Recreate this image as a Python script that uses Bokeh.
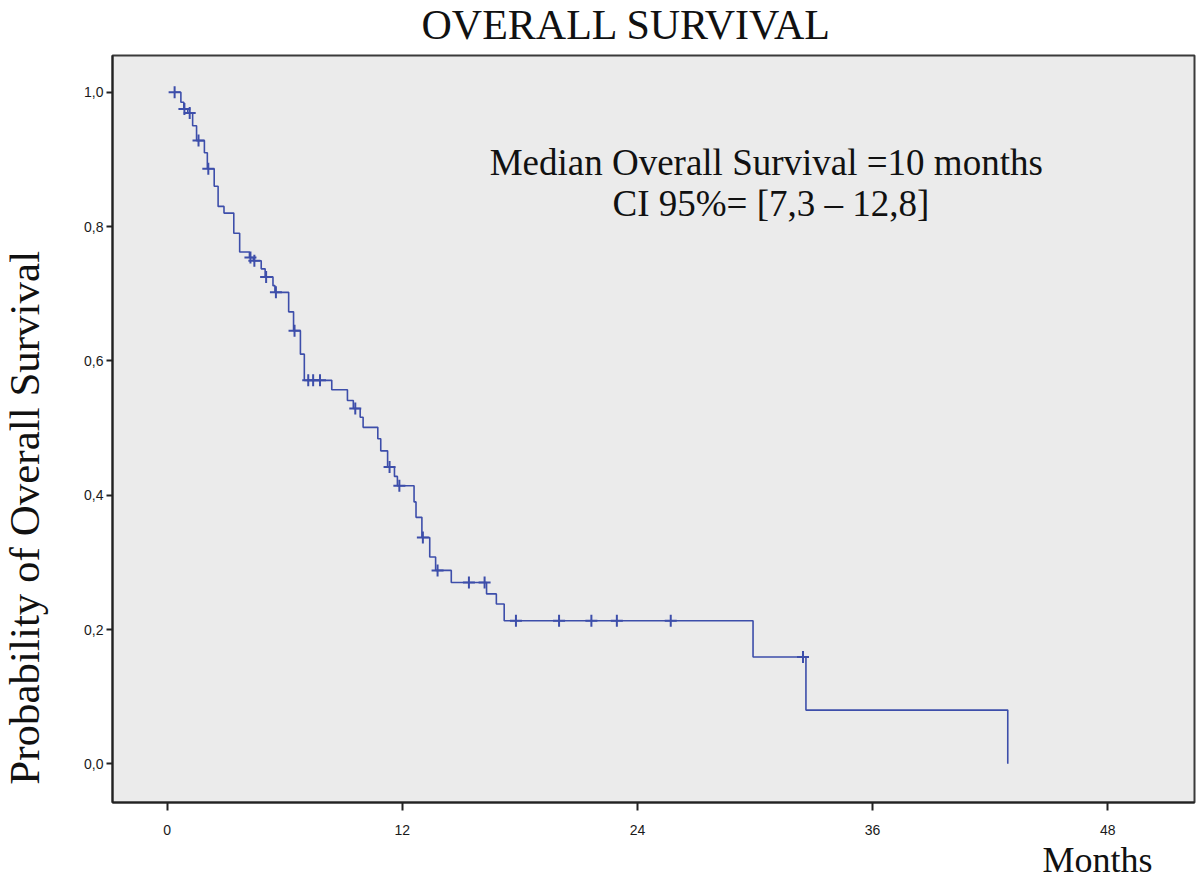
import math
from bokeh.plotting import figure
from bokeh.layouts import column, row
from bokeh.models import Range1d, FixedTicker, CustomJSTickFormatter, Label, Title
from bokeh.embed import file_html
from bokeh.resources import INLINE

# ---- data ----
step_months = [0.35, 0.7, 0.85, 1.05, 1.3, 1.5, 1.9, 2.05, 2.4, 2.6, 2.9, 3.4, 3.7,
               4.2, 4.4, 4.8, 5.0, 5.4, 5.5, 6.2, 6.45, 6.8, 7.0, 8.4, 9.2, 9.5,
               9.85, 10.0, 10.75, 10.9, 11.25, 11.6, 11.75, 12.6, 12.7, 13.0, 13.4,
               13.7, 14.5, 16.3, 16.8, 17.2, 29.9, 32.6, 42.9]
step_surv = [1.0, 0.985, 0.975, 0.969, 0.95, 0.928, 0.91, 0.886, 0.86, 0.83, 0.82,
             0.79, 0.762, 0.754, 0.749, 0.737, 0.725, 0.712, 0.702, 0.673, 0.645,
             0.61, 0.571, 0.557, 0.541, 0.529, 0.516, 0.501, 0.484, 0.466, 0.442,
             0.428, 0.414, 0.39, 0.367, 0.337, 0.308, 0.288, 0.270, 0.253, 0.238,
             0.213, 0.159, 0.080, 0.0]

censor_months = [0.38, 0.88, 1.15, 1.6, 2.1, 4.25, 4.45, 5.05, 5.55, 6.5, 7.2, 7.45,
                 7.8, 9.6, 11.35, 11.85, 13.05, 13.8, 15.4, 16.2, 17.8, 20.0, 21.65,
                 22.95, 25.7, 32.45]
censor_surv = [1.0, 0.975, 0.969, 0.928, 0.886, 0.754, 0.749, 0.725, 0.702, 0.645,
               0.571, 0.571, 0.571, 0.529, 0.442, 0.414, 0.337, 0.288, 0.270, 0.270,
               0.213, 0.213, 0.213, 0.213, 0.213, 0.159]

x_ticks = [0, 12, 24, 36, 48]
y_ticks = [0.0, 0.2, 0.4, 0.6, 0.8, 1.0]

title_text = "OVERALL SURVIVAL"
x_label = "Months"
y_label = "Probability of Overall  Survival"
note_line1 = "Median Overall Survival  =10 months"
note_line2 = "CI 95%= [7,3 \u2013 12,8]"

LINE = "#3d4eaa"
SERIF = "Liberation Serif"
TXT = "#111111"
W = 1196
HEAD_H = 52
MAIN_H = 837
STRIP_W = 50


def blank(width, height):
    f = figure(width=width, height=height, output_backend="svg", toolbar_location=None,
               x_range=Range1d(0, width), y_range=Range1d(height, 0),
               x_axis_location=None, y_axis_location=None,
               min_border_left=0, min_border_right=0, min_border_top=0,
               min_border_bottom=0)
    f.outline_line_color = None
    f.background_fill_color = "white"
    f.border_fill_color = "white"
    f.xgrid.visible = False
    f.ygrid.visible = False
    return f


# ---- title strip ----
head = blank(W, HEAD_H)
head.add_layout(Label(x=626, y=24, text=title_text, text_font=SERIF,
                      text_font_size="42px", text_color=TXT,
                      text_align="center", text_baseline="middle"))

# ---- y-axis title strip ----
strip = blank(STRIP_W, MAIN_H)
strip.add_layout(Label(x=24, y=512, text=y_label, text_font=SERIF,
                       text_font_size="43px", text_color=TXT, angle=math.pi / 2,
                       text_align="center", text_baseline="middle"))

# ---- main Kaplan-Meier plot ----
p = figure(width=W - STRIP_W, height=MAIN_H, output_backend="svg",
           toolbar_location=None,
           x_range=Range1d(-2.79, 52.43), y_range=Range1d(-0.0576, 1.0547),
           min_border_left=112 - STRIP_W, min_border_right=2, min_border_top=3,
           min_border_bottom=87)

p.background_fill_color = "#ebebeb"
p.border_fill_color = "white"
p.outline_line_color = "#3a3a3a"
p.outline_line_width = 2
p.xgrid.visible = False
p.ygrid.visible = False

p.xaxis.ticker = FixedTicker(ticks=x_ticks)
p.yaxis.ticker = FixedTicker(ticks=y_ticks)
p.yaxis.formatter = CustomJSTickFormatter(code="return tick.toFixed(1).replace('.', ',');")
for ax in (p.xaxis, p.yaxis):
    ax.axis_line_color = "#222222"
    ax.axis_line_width = 2
    ax.major_tick_line_color = "#222222"
    ax.major_tick_line_width = 2
    ax.major_tick_in = 0
    ax.minor_tick_line_color = None
    ax.major_label_text_font = "Liberation Sans"
    ax.major_label_text_font_size = "14px"
    ax.major_label_text_color = "#1a1a1a"
p.xaxis.major_tick_out = 8
p.xaxis.major_label_standoff = 14
p.yaxis.major_tick_out = 6
p.yaxis.major_label_standoff = 3

p.add_layout(Title(text=x_label, text_font=SERIF, text_font_size="36px",
                   text_font_style="normal", text_color=TXT, align="right",
                   offset=42, vertical_align="top", standoff=4), "below")

p.step(step_months, step_surv, mode="after", line_color=LINE, line_width=1.6)
p.scatter(censor_months, censor_surv, marker="cross", size=12, line_color=LINE,
          line_width=2)

p.add_layout(Label(x=30.81, y=0.8953, text=note_line1, text_font=SERIF,
                   text_font_size="37px", text_color=TXT,
                   text_align="center", text_baseline="middle"))
p.add_layout(Label(x=30.81, y=0.835, text=note_line2, text_font=SERIF,
                   text_font_size="37px", text_color=TXT,
                   text_align="center", text_baseline="middle"))

layout = column(head, row(strip, p, spacing=0), spacing=0)
open("out.html", "w").write(file_html(layout, INLINE))
